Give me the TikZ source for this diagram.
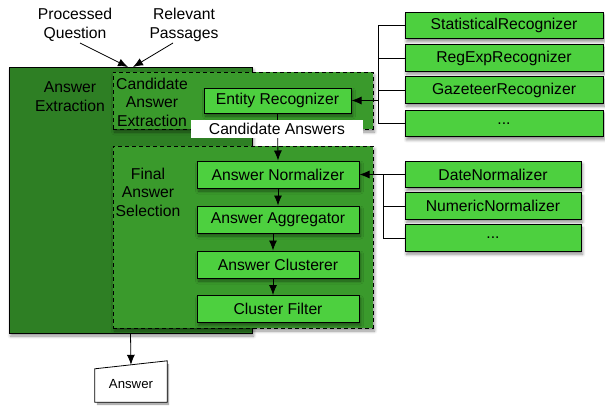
\documentclass[tikz,border=0pt]{standalone}
\usepackage{fontspec}
\setmainfont{Liberation Sans}
\usetikzlibrary{arrows.meta,shadows.blur}
\definecolor{stagegreen}{HTML}{2E7F24}
\definecolor{substagegreen}{HTML}{3A9A2C}
\definecolor{compgreen}{HTML}{4DD03F}
\tikzset{
  shade/.style={blur shadow={shadow xshift=1.5pt,shadow yshift=-3pt,shadow blur radius=3pt,shadow blur steps=6,shadow opacity=45}},
  stagebox/.style={draw=black,line width=0.8pt,fill=stagegreen,shade,inner sep=0pt},
  subbox/.style={draw=black,line width=0.8pt,dash pattern=on 4pt off 3pt,fill=substagegreen,shade,inner sep=0pt},
  compbox/.style={draw=black,line width=1pt,fill=compgreen,shade,inner sep=0pt,minimum height=26.5pt},
  lbl/.style={align=center,inner sep=0pt},
  arr/.style={-{Latex[length=10pt,width=8pt]},line width=0.8pt},
  tree/.style={line width=0.8pt}
}
\begin{document}
\begin{tikzpicture}[x=1pt,y=-1pt,font=\fontsize{15.7}{18.5}\selectfont]
\useasboundingbox (0,0) rectangle (605,407);

% inputs
\node[lbl] (pq) at (75,25) {Processed\\Question};
\node[lbl] (rp) at (184,25) {Relevant\\Passages};

% outer stage
\node[stagebox,minimum width=243pt,minimum height=266pt] (ae) at (130.5,200) {};
\node[lbl] (aelbl) at (70,96.5) {Answer\\Extraction};

\coordinate (in1) at (128,67);
\coordinate (in2) at (133,67);
\draw[arr] (80,43) -- (in1);
\draw[arr] (173,43) -- (in2);

% candidate answer extraction
\node[subbox,minimum width=260pt,minimum height=57pt] (cae) at (243,100.5) {};
\node[lbl] (caelbl) at (152,102) {Candidate\\Answer\\Extraction};
\node[compbox,minimum width=147pt,minimum height=25pt] (er) at (277.5,100.5) {Entity Recognizer};

% final answer selection
\node[subbox,minimum width=260pt,minimum height=182pt] (fas) at (243,237) {};
\node[lbl] (faslbl) at (148,192) {Final\\Answer\\Selection};
\node[compbox,minimum width=162pt,minimum height=27pt] (an) at (278,174.5) {Answer Normalizer};
\node[compbox,minimum width=162pt,minimum height=27pt] (ag) at (278,219.5) {Answer Aggregator};
\node[compbox,minimum width=162pt,minimum height=27pt] (ac) at (278,264.5) {Answer Clusterer};
\node[compbox,minimum width=162pt,minimum height=27pt] (cf) at (278,309) {Cluster Filter};

\draw[arr] (er.south) -- (an.north);
\node[fill=white,minimum width=172pt,minimum height=18pt,inner sep=0pt] (ca) at (277,129) {Candidate Answers};

\draw[arr] (an.south) -- (ag.north);
\draw[arr] ([xshift=-5pt]ag.south) -- ([xshift=-5pt]ac.north);
\draw[arr] ([xshift=-5pt]ac.south) -- ([xshift=-5pt]cf.north);

% recognizers
\node[compbox,minimum width=198pt] (sr) at (504,25.5) {StatisticalRecognizer};
\node[compbox,minimum width=198pt] (rr) at (504,58) {RegExpRecognizer};
\node[compbox,minimum width=198pt] (gr) at (504,90) {GazeteerRecognizer};
\node[compbox,minimum width=198pt] (or) at (504,123.5) {...};
\coordinate (rj) at (378,100.5);
\draw[tree] (sr.west) -| (378,25.5) -- (378,123.5) -- (or.west);
\draw[tree] (rr.west) -- (378,58);
\draw[tree] (gr.west) -- (378,90);
\draw[arr] (rj) -- (er.east);

% normalizers
\node[compbox,minimum width=176pt] (dn) at (493,174.5) {DateNormalizer};
\node[compbox,minimum width=176pt] (nn) at (493,206) {NumericNormalizer};
\node[compbox,minimum width=176pt] (on) at (493,238) {...};
\coordinate (nj) at (383,174.5);
\draw[tree] (nj) -- (383,238) -- (on.west);
\draw[tree] (nn.west) -- (383,206);
\draw[arr] (dn.west) -- (an.east);

% output
\node[lbl,minimum width=72pt,minimum height=41pt] (ans) at (131,381.5) {};
\fill[black,opacity=0.3] ([shift={(2pt,-3pt)}]ans.south west) -- ([shift={(2pt,-3pt)}]ans.south east) -- ([shift={(2pt,-3pt)}]ans.north east) -- ([shift={(2pt,-11pt)}]ans.north west) -- cycle;
\draw[line width=0.8pt,fill=white] (ans.south west) -- (ans.south east) -- (ans.north east) -- ([yshift=-8pt]ans.north west) -- cycle;
\node[lbl,font=\fontsize{13.2}{16}\selectfont] (anstxt) at ([yshift=-3pt]ans.center) {Answer};
\draw[arr] (ae.south) -- ([yshift=-4pt]ans.north);
\end{tikzpicture}
\end{document}
